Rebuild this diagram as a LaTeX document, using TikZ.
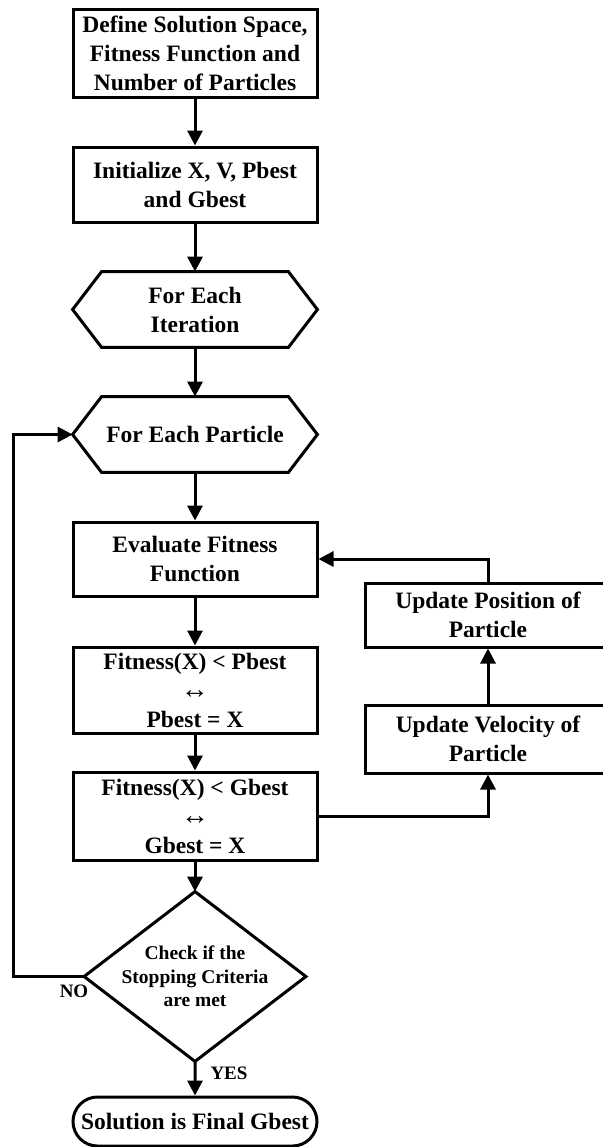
\documentclass[tikz,border=0pt]{standalone}
\usepackage{fontspec}
\setmainfont{Liberation Serif}
\usetikzlibrary{arrows.meta,shapes.misc}
\tikzset{
  ln/.style={line width=1.5pt},
  arr/.style={ln,-{Triangle[width=7.5pt,length=7.5pt]}},
  boxtxt/.style={font=\bfseries\fontsize{11.75pt}{14.5pt}\selectfont,align=center,inner sep=0pt},
  procbox/.style={boxtxt,draw,ln,minimum width=122pt},
  hexnode/.style={boxtxt,minimum width=122pt,minimum height=37.5pt},
  labtxt/.style={font=\bfseries\fontsize{9.5pt}{11.5pt}\selectfont,inner sep=0pt},
}
\newcommand\hexdraw[1]{\draw[ln] ([xshift=14.5pt]#1.north west) -- ([xshift=-14.5pt]#1.north east) -- (#1.east) -- ([xshift=-14.5pt]#1.south east) -- ([xshift=14.5pt]#1.south west) -- (#1.west) -- cycle;}
\newcommand\lrarr{{\mdseries\fontsize{14pt}{14.5pt}\selectfont ↔}}
\begin{document}
\begin{tikzpicture}[x=0.5pt,y=-0.5pt]
\clip (0,0) rectangle (603,1147);
\node[procbox,minimum height=44pt] (b1) at (195,53) {Define Solution Space,\\Fitness Function and\\Number of Particles};
\node[procbox,minimum height=37.5pt] (b2) at (195,184.5) {Initialize X, V, Pbest\\and Gbest};
\node[hexnode] (h1) at (195,309.5) {For Each\\Iteration};
\hexdraw{h1}
\node[hexnode] (h2) at (195,434.5) {For Each Particle};
\hexdraw{h2}
\node[procbox,minimum height=37pt] (b3) at (195,559) {Evaluate Fitness\\Function};
\node[procbox,minimum height=43pt] (b4) at (195,690) {Fitness(X) < Pbest\\\lrarr\\Pbest = X};
\node[procbox,minimum height=44pt] (b5) at (195,816) {Fitness(X) < Gbest\\\lrarr\\Gbest = X};
\node[boxtxt,font=\bfseries\fontsize{9.75pt}{11.75pt}\selectfont,minimum width=110.5pt,minimum height=84.5pt] (dec) at (195,976.5) {Check if the\\Stopping Criteria\\are met};
\draw[ln] (dec.north) -- (dec.east) -- (dec.south) -- (dec.west) -- cycle;
\node[boxtxt,draw,ln,rounded rectangle,minimum width=122pt,minimum height=24.5pt] (term) at (195,1121.5) {Solution is Final Gbest};
\node[procbox,minimum width=123pt,minimum height=32pt] (pos) at (488,615) {Update Position of\\Particle};
\node[procbox,minimum width=123pt,minimum height=34pt] (vel) at (488,739) {Update Velocity of\\Particle};
\node[labtxt] (no) at (74,991) {NO};
\node[labtxt] (yes) at (229,1073) {YES};
\coordinate (lp) at (13,976.5);
\draw[arr] (b1) -- (b2);
\draw[arr] (b2) -- (h1);
\draw[arr] (h1) -- (h2);
\draw[arr] (h2) -- (b3);
\draw[arr] (b3) -- (b4);
\draw[arr] (b4) -- (b5);
\draw[arr] (b5) -- (dec.north);
\draw[arr] (dec.south) -- (term);
\draw[arr] (dec.west) -- (lp) |- (h2.west);
\draw[arr] (b5.east) -| (vel.south);
\draw[arr] (vel) -- (pos);
\draw[arr] (pos.north) |- (b3.east);
\end{tikzpicture}
\end{document}
